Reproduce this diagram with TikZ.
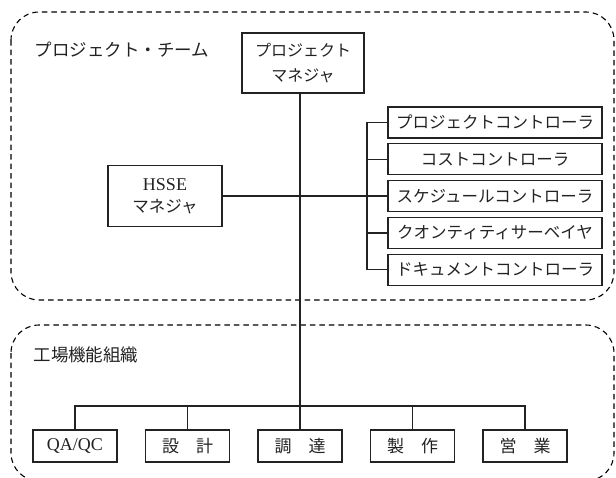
\documentclass[tikz,border=0pt]{standalone}
\usepackage{fontspec}
\setmainfont{Liberation Serif}
\newfontfamily\jp{Noto Sans CJK JP}
\definecolor{ink}{HTML}{222222}
\tikzset{
  grp/.style={draw=black, line width=1.1pt, dash pattern=on 5.5pt off 4pt, rounded corners=28pt},
  box/.style={draw=ink, line width=1.1pt, inner sep=0pt, align=center, text=ink},
  rbox/.style={box, minimum width=214pt, minimum height=31pt, font=\fontsize{16.5}{20}\selectfont\jp},
  bbox/.style={box, minimum width=84pt, minimum height=32pt, font=\fontsize{17}{20}\selectfont\jp},
  lbl/.style={text=ink, inner sep=0pt, font=\fontsize{17.5}{20}\selectfont\jp},
  wire/.style={draw=ink, line width=1.2pt}
}
\begin{document}
\begin{tikzpicture}[x=1pt, y=-1pt]
\useasboundingbox (0,0) rectangle (616,477);
\begin{scope}
\clip (0,0) rectangle (616,477);
\draw[grp] (11,12) rectangle (614,300);
\draw[grp] (11,325) rectangle (614,481);
\end{scope}
\node[lbl] (t1) at (122,50) {プロジェクト・チーム};
\node[lbl] (t2) at (86,355) {工場機能組織};
\node[box, minimum width=122pt, minimum height=60pt, font=\fontsize{16}{25}\selectfont\jp] (pm) at (303,63) {プロジェクト\\マネジャ};
\node[box, minimum width=114pt, minimum height=61pt, font=\fontsize{18}{22}\selectfont] (hsse) at (165,196) {HSSE\\{\jp\fontsize{16.5}{22}\selectfont マネジャ}};
\node[rbox] (r1) at (495,122.5) {プロジェクトコントローラ};
\node[rbox] (r2) at (495,159.3) {コストコントローラ};
\node[rbox] (r3) at (495,196) {スケジュールコントローラ};
\node[rbox] (r4) at (495,232.9) {クオンティティサーベイヤ};
\node[rbox] (r5) at (495,269.7) {ドキュメントコントローラ};
\node[bbox, font=\fontsize{18}{20}\selectfont] (b1) at (75,446) {QA/QC};
\node[bbox] (b2) at (187.5,446) {設　計};
\node[bbox] (b3) at (300,446) {調　達};
\node[bbox] (b4) at (412.5,446) {製　作};
\node[bbox] (b5) at (525,446) {営　業};
\coordinate (brk) at (367,0);
\coordinate (bus) at (300,406);
% main trunk
\draw[wire] (pm.south -| b3.north) -- (b3.north);
% bus
\draw[wire] (b1.north) -- (b1.north |- bus) -- (b5.north |- bus) -- (b5.north);
\draw[wire] (b2.north) -- (b2.north |- bus);
\draw[wire] (b4.north) -- (b4.north |- bus);
% HSSE and controllers
\draw[wire] (hsse.east) -- (r3.west);
\draw[wire] (r1.west) -- (r1.west -| brk) -- (r5.west -| brk) -- (r5.west);
\draw[wire] (r2.west) -- (r2.west -| brk);
\draw[wire] (r4.west) -- (r4.west -| brk);
\end{tikzpicture}
\end{document}
